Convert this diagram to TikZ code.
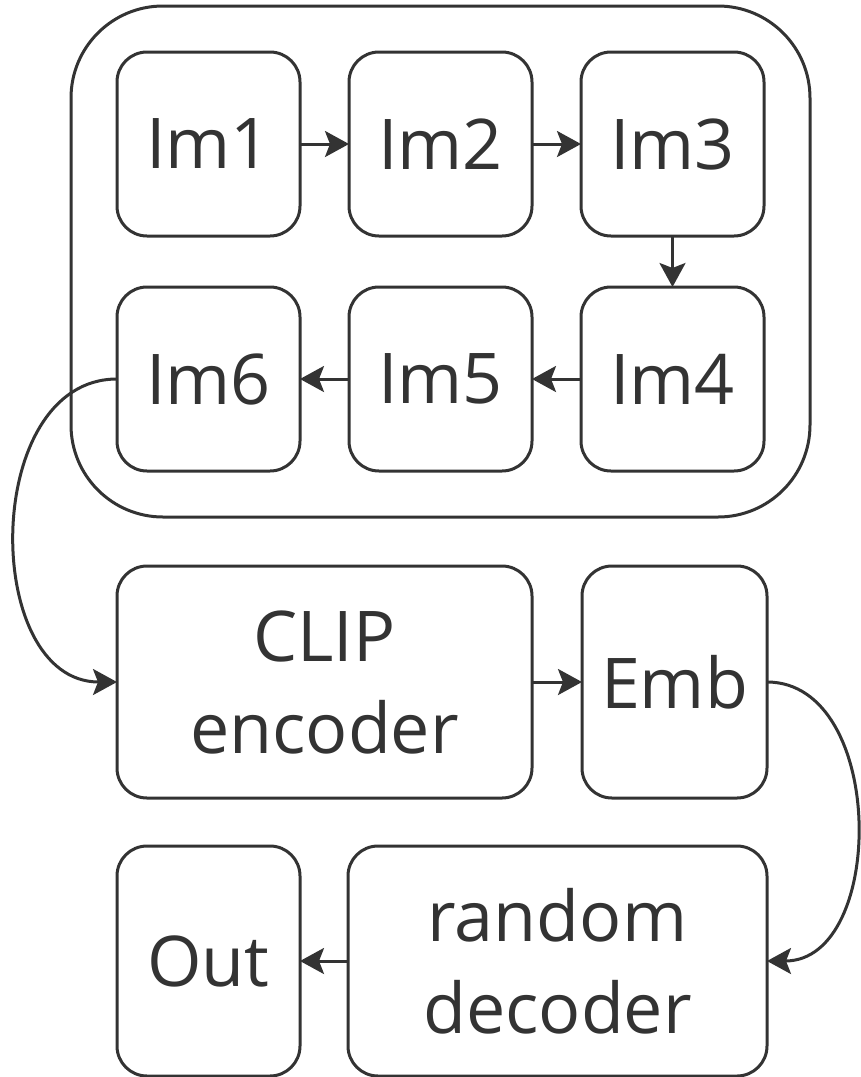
\documentclass[tikz,border=0pt]{standalone}
\usepackage{fontspec}
\setmainfont{Open Sans}
\usetikzlibrary{positioning,fit,arrows.meta}
\definecolor{ink}{HTML}{333333}
\begin{document}
\begin{tikzpicture}[
                            x=1pt, y=-1pt,
                            node distance=49pt,
                            >={Stealth[length=24pt,width=26pt,inset=5pt]},
                            block/.style={rectangle, draw=ink, text=ink, line width=3pt, rounded corners=30pt,
                                          minimum width=183pt, minimum height=184pt, inner sep=0pt, outer sep=0pt,
                                          align=center, font=\fontsize{70pt}{92pt}\selectfont},
                            link/.style={->, draw=ink, line width=3pt}
                        ]
                        \useasboundingbox (0,0) rectangle (861,1077);
                        % Blocks
                        \node [block] at (208.5,144) (im1) {Im1};
                        \node [block, right=of im1] (im2) {Im2};
                        \node [block, right=of im2] (im3) {Im3};
                        \node [block, below=51pt of im3] (im4) {Im4};
                        \node [block, left=of im4] (im5) {Im5};
                        \node [block, left=of im5] (im6) {Im6};
                        \node [draw=ink, line width=3pt, rounded corners=92pt, inner sep=46pt, outer sep=0pt, fit=(im1)(im4)] (frames) {};
                        \node [block, minimum width=415pt, minimum height=232pt,
                               below=95pt of im6.south west, anchor=north west] (clip) {CLIP\\encoder};
                        \node [block, minimum width=185pt, minimum height=232pt, right=50pt of clip] (emb) {Emb};
                        \node [block, minimum width=419pt, minimum height=230pt,
                               below=48pt of emb.south east, anchor=north east] (dec) {random\\decoder};
                        \node [block, minimum height=230pt, left=48pt of dec] (out) {Out};

                        % Connections
                        \draw [link] (im1) -- (im2);
                        \draw [link] (im2) -- (im3);
                        \draw [link] (im3) -- (im4);
                        \draw [link] (im4) -- (im5);
                        \draw [link] (im5) -- (im6);
                        \draw [link] (im6.west) to[out=180, in=180, looseness=1.15] (clip.west);
                        \draw [link] (clip) -- (emb);
                        \draw [link] (emb.east) to[out=0, in=0, looseness=1.1] (dec.east);
                        \draw [link] (dec) -- (out);
                    \end{tikzpicture}
\end{document}
